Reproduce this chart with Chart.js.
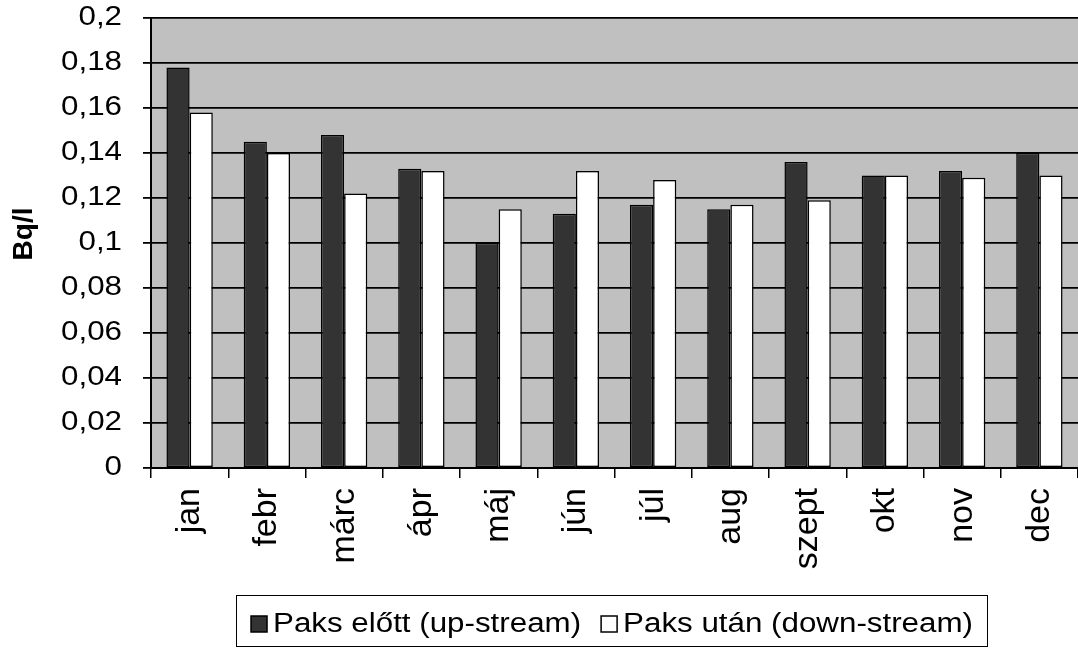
<!DOCTYPE html>
<html lang="hu">
<head>
  <meta charset="UTF-8">
  <title>Bq/l havonta - Paks előtt és után</title>
  <script src="https://cdn.jsdelivr.net/npm/chart.js"></script>
  <style>
    body {
      margin: 0;
      background: #fff;
    }
    canvas {
      display: block;
    }
  </style>
</head>
<body>

  <canvas id="bqChart" width="1078" height="648"></canvas>

  <script>
    // Data
    const months = ['jan', 'febr', 'márc', 'ápr', 'máj', 'jún', 'júl', 'aug', 'szept', 'okt', 'nov', 'dec'];
    const upStream = [0.178, 0.145, 0.148, 0.133, 0.100, 0.113, 0.117, 0.115, 0.136, 0.130, 0.132, 0.140];
    const downStream = [0.158, 0.140, 0.122, 0.132, 0.115, 0.132, 0.128, 0.117, 0.119, 0.130, 0.129, 0.130];
    const seriesNames = ['Paks előtt (up-stream)', 'Paks után (down-stream)'];
    const yTitle = 'Bq/l';

    const FONT = 'Arial, "Liberation Sans", sans-serif';
    const TEXT_STRETCH = 1.16; // horizontal text in the original is a bit wide

    function formatTick(value) {
      return String(parseFloat(value.toFixed(2))).replace('.', ',');
    }

    // grey plot background
    const plotBackground = {
      id: 'plotBackground',
      beforeDraw(chart) {
        const { ctx, chartArea } = chart;
        ctx.save();
        ctx.fillStyle = '#c0c0c0';
        ctx.fillRect(chartArea.left, chartArea.top, chartArea.right - chartArea.left, chartArea.bottom - chartArea.top);
        ctx.restore();
      }
    };

    // stretch the y tick labels sideways (anchored on their right edge),
    // and lift the axis title a little
    const yAxisTweaks = {
      id: 'yAxisTweaks',
      afterLayout(chart) {
        const scale = chart.scales.y;
        if (scale._patched) return;
        const proto = Object.getPrototypeOf(scale);
        scale.drawLabels = function (area) {
          const ctx = this.ctx;
          const ax = this.right - this.options.grid.tickLength - this.options.ticks.padding;
          ctx.save();
          ctx.translate(ax, 0);
          ctx.scale(TEXT_STRETCH, 1);
          ctx.translate(-ax, 0);
          proto.drawLabels.call(this, area);
          ctx.restore();
        };
        scale.drawTitle = function () {
          this.ctx.save();
          this.ctx.translate(0, -9);
          proto.drawTitle.call(this);
          this.ctx.restore();
        };
        scale._patched = true;
      }
    };

    // boxed legend under the chart
    const boxedLegend = {
      id: 'boxedLegend',
      afterDraw(chart) {
        const ctx = chart.ctx;
        const boxSize = 16, textGap = 6, itemGap = 20;
        const centerX = 612, baseline = 632;
        ctx.save();
        ctx.font = '27px ' + FONT;
        const items = chart.data.datasets.map(ds => ({
          ds: ds,
          w: ctx.measureText(ds.label).width * TEXT_STRETCH
        }));
        let total = 0;
        items.forEach((it, i) => {
          total += boxSize + textGap + it.w + (i > 0 ? itemGap : 0);
        });
        let x = centerX - total / 2;

        ctx.strokeStyle = '#000';
        ctx.lineWidth = 1;
        ctx.strokeRect(236.5, 595.5, 751, 51);

        items.forEach(it => {
          ctx.fillStyle = it.ds.backgroundColor;
          ctx.fillRect(x, 616, boxSize, boxSize);
          ctx.lineWidth = 1.5;
          ctx.strokeRect(x, 616, boxSize, boxSize);
          x += boxSize + textGap;
          ctx.save();
          ctx.translate(x, baseline);
          ctx.scale(TEXT_STRETCH, 1);
          ctx.fillStyle = '#000';
          ctx.textBaseline = 'alphabetic';
          ctx.fillText(it.ds.label, 0, 0);
          ctx.restore();
          x += it.w + itemGap;
        });
        ctx.restore();
      }
    };

    const ctx = document.getElementById('bqChart').getContext('2d');
    const chart = new Chart(ctx, {
      type: 'bar',
      data: {
        labels: months,
        datasets: [{
          label: seriesNames[0],
          data: upStream,
          backgroundColor: '#333333',
          borderColor: '#000',
          borderWidth: 1.5,
          borderSkipped: false
        }, {
          label: seriesNames[1],
          data: downStream,
          backgroundColor: '#ffffff',
          borderColor: '#000',
          borderWidth: 1.5,
          borderSkipped: false
        }]
      },
      options: {
        responsive: false,
        animation: false,
        layout: {
          padding: { top: 18, right: -2, bottom: 0, left: 0 }
        },
        datasets: {
          bar: {
            categoryPercentage: 0.6,
            barPercentage: 1.0
          }
        },
        plugins: {
          legend: { display: false },
          tooltip: { enabled: false }
        },
        scales: {
          x: {
            grid: {
              offset: true,
              drawOnChartArea: false,
              tickLength: 10,
              color: '#000',
              lineWidth: 1.5
            },
            border: { color: '#000', width: 2 },
            ticks: {
              autoSkip: false,
              maxRotation: 90,
              minRotation: 90,
              padding: 10,
              color: '#000',
              font: { family: FONT, size: 34 }
            },
            afterFit(s) {
              s.height = 180;
              s.paddingLeft = 0;
              s.paddingRight = 0;
            }
          },
          y: {
            min: 0,
            max: 0.2,
            grid: {
              color: '#000',
              lineWidth: 1.8,
              tickLength: 8
            },
            border: { color: '#000', width: 2 },
            ticks: {
              stepSize: 0.02,
              padding: 21,
              color: '#000',
              font: { family: FONT, size: 27 },
              callback: value => formatTick(value)
            },
            title: {
              display: true,
              text: yTitle,
              color: '#000',
              padding: { top: 7, bottom: 0 },
              font: { family: FONT, size: 28, weight: 'bold' }
            },
            afterFit(s) {
              s.width = 151;
              s.paddingTop = 0;
              s.paddingBottom = 0;
            }
          }
        }
      },
      plugins: [plotBackground, yAxisTweaks, boxedLegend]
    });
  </script>

</body>
</html>
